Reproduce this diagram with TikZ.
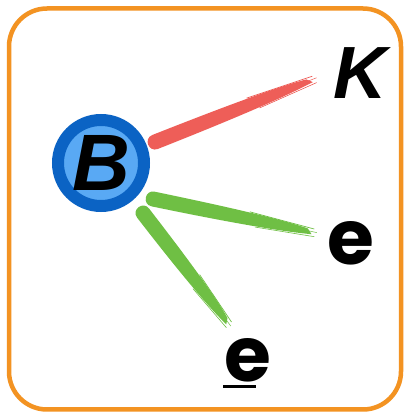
\documentclass[tikz,border=0pt]{standalone}
\usepackage{fontspec}
\setmainfont{Liberation Sans}
\newfontfamily\efont{Poppins}
\usetikzlibrary{calc}
\definecolor{frameorange}{HTML}{F39322}
\definecolor{darkblue}{HTML}{0B63C4}
\definecolor{lightblue}{HTML}{59A9F4}
\definecolor{brushred}{HTML}{EE5E58}
\definecolor{brushgreen}{HTML}{6FBF44}
\tikzset{
  frame/.style={draw=frameorange, line width=4.5pt, rounded corners=38pt},
  bnode/.style={circle, fill=lightblue, draw=darkblue, line width=12pt, minimum size=86pt, inner sep=0pt,
    font=\fontsize{80}{80}\selectfont\bfseries\itshape},
  kname/.style={inner sep=0pt, font=\fontsize{74}{74}\selectfont\bfseries\itshape},
  ename/.style={inner sep=0pt, font=\efont\fontsize{76}{76}\selectfont\bfseries},
}
\newcommand\brushstroke[4]{%
  \path let \p1=($(#2)-(#1)$) in
    \pgfextra{\pgfmathsetmacro\bang{atan2(\y1,\x1)}\pgfmathsetmacro\blen{veclen(\x1,\y1)}%
      \global\let\bang\bang\global\let\blen\blen};
  \begin{scope}[shift={(#1)}, rotate=\bang]
    \fill[#3] (0,#4) .. controls ({-1.3*#4},#4) and ({-1.3*#4},{-#4}) .. (0,{-#4})
      .. controls ({0.45*\blen},{-#4}) and ({0.8*\blen},{-0.8*#4}) .. (\blen,{-0.3*#4})
      -- ({0.97*\blen},{0.35*#4})
      .. controls ({0.8*\blen},{0.85*#4}) and ({0.45*\blen},#4) .. (0,#4) -- cycle;
    \draw[#3, line width=0.7pt] ({0.6*\blen},{0.95*#4}) -- ({1.01*\blen},{0.45*#4});
    \draw[#3, line width=0.6pt] ({0.65*\blen},{-0.9*#4}) -- ({1.02*\blen},{-0.55*#4});
    \draw[#3, line width=0.5pt] ({0.8*\blen},{0.1*#4}) -- ({1.03*\blen},{0.05*#4});
  \end{scope}}
\begin{document}
\begin{tikzpicture}[x=1pt,y=1pt]
  \useasboundingbox (0,0) rectangle (405,413);
  \fill[white] (0,0) rectangle (405,413);
  \draw[frame] (9,3.5) rectangle (401,404.5);

  \node[bnode] (B) at (101,250) {B};
  \node[kname] (K) at (360,340) {K};
  \node[ename] (e1) at (351,170) {e};
  \node[ename] (e2) at (248,53) {e};
  \draw[line width=3pt] ($(e2.south west)+(-1,-4)$) -- ($(e2.south west)+(32,-4)$);

  \coordinate (r1) at (155,271);
  \coordinate (r2) at (312,333);
  \coordinate (g1) at (153,214);
  \coordinate (g2) at (312,181);
  \coordinate (h1) at (143,200);
  \coordinate (h2) at (228,90);

  \brushstroke{r1}{r2}{brushred}{7.5}
  \brushstroke{g1}{g2}{brushgreen}{7.5}
  \brushstroke{h1}{h2}{brushgreen}{7.5}
\end{tikzpicture}
\end{document}
